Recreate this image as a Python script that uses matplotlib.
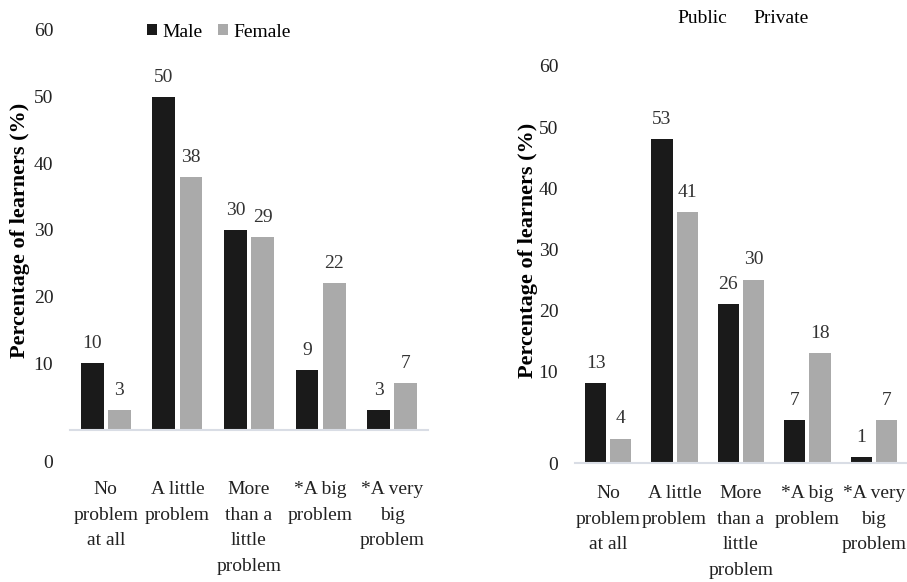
import matplotlib
matplotlib.use("Agg")
import matplotlib.pyplot as plt
import matplotlib.transforms as mtransforms
from matplotlib.patches import Patch
import numpy as np

plt.rcParams["font.family"] = ["Liberation Serif", "DejaVu Serif"]

categories = [
    "No\nproblem\nat all",
    "A little\nproblem",
    "More\nthan a\nlittle\nproblem",
    "*A big\nproblem",
    "*A very\nbig\nproblem",
]
male = [10, 50, 30, 9, 3]
female = [3, 38, 29, 22, 7]
public = [13, 53, 26, 7, 1]
private = [4, 41, 30, 18, 7]
y_ticks = [0, 10, 20, 30, 40, 50, 60]

DARK = "#1a1a1a"
GREY = "#aaaaaa"
BASE = "#d9dde5"
DPI = 100
W, H = 907, 582


def px_axes(fig, x0, x1, base, top):
    # pixel box -> figure fraction
    return fig.add_axes([x0 / W, (H - base) / H, (x1 - x0) / W, (base - top) / H])


def draw_panel(ax, s1, s2, xpad):
    x = np.arange(len(categories))
    w, off = 0.32, 0.19
    b1 = ax.bar(x - off, s1, w, color=DARK)
    b2 = ax.bar(x + off, s2, w, color=GREY)
    for b in (b1, b2):
        ax.bar_label(b, padding=8, fontsize=14, color="#333333")
    ax.set_xlim(-0.5, len(categories) - 0.5)
    ax.set_ylim(0, 60)
    ax.set_yticks(y_ticks)
    ax.set_yticklabels([str(t) for t in y_ticks], fontsize=14, color="#222222")
    ax.set_xticks(x)
    ax.set_xticklabels(categories, fontsize=14, color="#222222", linespacing=1.65)
    ax.tick_params(axis="y", length=0, pad=12)
    ax.tick_params(axis="x", length=0, pad=xpad)
    for side in ("top", "right", "left"):
        ax.spines[side].set_visible(False)
    ax.spines["bottom"].set_color(BASE)
    ax.spines["bottom"].set_linewidth(1.5)
    ax.set_ylabel("Percentage of learners (%)", fontsize=16, fontweight="bold")
    return b1, b2


fig = plt.figure(figsize=(W / DPI, H / DPI), dpi=DPI)

# left panel: male / female
ax1 = px_axes(fig, 70, 428, 430, 30)
b1, b2 = draw_panel(ax1, male, female, xpad=37)
ax1.yaxis.set_label_coords(-0.112, 0.5)
# the zero label sits below the baseline in the original
shift = mtransforms.ScaledTranslation(0, -32 / DPI, fig.dpi_scale_trans)
zero_lbl = ax1.get_yticklabels()[0]
zero_lbl.set_transform(zero_lbl.get_transform() + shift)
fig.legend([b1, b2], ["Male", "Female"], loc="center",
           bbox_to_anchor=(0.241, 0.945), ncol=2, frameon=False, fontsize=14,
           handlelength=0.55, handleheight=0.55, handletextpad=0.25,
           columnspacing=0.8)

# right panel: public / private
ax2 = px_axes(fig, 575, 907, 463, 96)
draw_panel(ax2, public, private, xpad=16)
ax2.yaxis.set_label_coords(-0.112, 0.58)
# labels 10..60 drawn higher than their gridline in the original
up = mtransforms.ScaledTranslation(0, 30 / DPI, fig.dpi_scale_trans)
for lbl in ax2.get_yticklabels()[1:]:
    lbl.set_transform(lbl.get_transform() + up)
hidden = [Patch(visible=False), Patch(visible=False)]
fig.legend(hidden, ["Public", "Private"], loc="center",
           bbox_to_anchor=(0.819, 0.969), ncol=2, frameon=False, fontsize=14,
           handlelength=0, handletextpad=0, columnspacing=1.35)

fig.savefig("out.png", dpi=DPI)
